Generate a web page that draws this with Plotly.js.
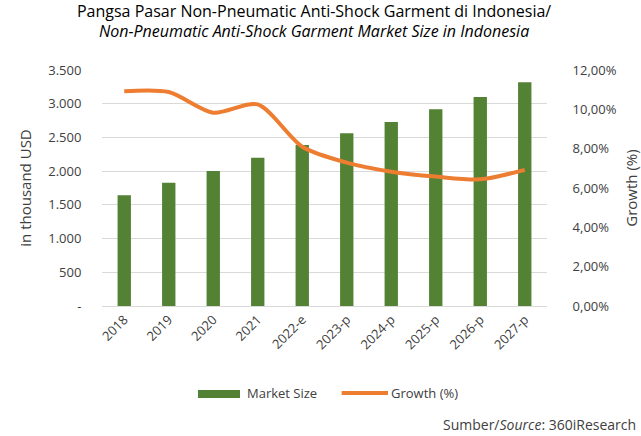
<!DOCTYPE html>
<html>
<head>
<meta charset="utf-8">
<script src="https://cdn.plot.ly/plotly-3.0.1.min.js"></script>
<style>html,body{margin:0;padding:0;background:#fff;}#chart{width:641px;height:436px;}</style>
</head>
<body>
<div id="chart"></div>
<script>
const categories = ["2018","2019","2020","2021","2022-e","2023-p","2024-p","2025-p","2026-p","2027-p"];
const marketSize = [1642,1829,2002,2199,2388,2561,2729,2917,3099,3317];
const growth = [0.1092,0.1088,0.0983,0.1025,0.0810,0.0729,0.0683,0.0658,0.0644,0.0692];
const leftTickVals = [0,500,1000,1500,2000,2500,3000,3500];
const leftTickText = ["-","500","1.000","1.500","2.000","2.500","3.000","3.500"];
const seriesNames = ["Market Size","Growth (%)"];
const sourceText = "Sumber/<i>Source</i>: 360iResearch";

const font = "'Open Sans', Lato, sans-serif";
const barColor = "#548235", lineColor = "#ED7D31", txt = "#404040";
const traces = [
  {type:"bar", name:seriesNames[0], x:categories, y:marketSize, marker:{color:barColor}, width:0.3},
  {type:"scatter", mode:"lines", name:seriesNames[1], x:categories, y:growth, yaxis:"y2",
   line:{color:lineColor, width:4, shape:"spline", smoothing:0.8}}
];
const layout = {
  width:641, height:436,
  paper_bgcolor:"#fff", plot_bgcolor:"#fff",
  separators:",.",
  font:{family:font, size:13, color:txt},
  margin:{l:102, r:94, t:70, b:130},
  title:{text:"Pangsa Pasar Non-Pneumatic Anti-Shock Garment di Indonesia/<br><i>Non-Pneumatic Anti-Shock Garment Market Size in Indonesia</i>",
    font:{family:font, size:16, color:"#000"}, x:0.49, xref:"container", yref:"container", y:0.962, yanchor:"top"},
  xaxis:{type:"category", tickangle:-45, showgrid:false, showline:true, linecolor:"#d9d9d9", linewidth:1,
    ticks:"", tickfont:{size:13, color:txt}},
  yaxis:{range:[0,3500], tickvals:leftTickVals, ticktext:leftTickText, showgrid:true, gridcolor:"#d9d9d9",
    zeroline:false, ticks:"outside", ticklen:17, tickcolor:"rgba(0,0,0,0)", tickfont:{size:13, color:txt},
    title:{text:"in thousand USD", font:{size:15, color:txt}, standoff:12}},
  yaxis2:{range:[0,0.12], overlaying:"y", side:"right", tickformat:".2%", dtick:0.02, showgrid:false,
    zeroline:false, ticks:"outside", ticklen:22, tickcolor:"rgba(0,0,0,0)", tickfont:{size:13, color:txt},
    title:{text:"Growth (%)", font:{size:15, color:txt}, standoff:10}},
  showlegend:false,
  shapes:[
    {type:"rect", xref:"paper", yref:"paper", x0:0.2157, x1:0.3101, y0:-0.3898, y1:-0.3559,
     fillcolor:barColor, line:{width:0}},
    {type:"line", xref:"paper", yref:"paper", x0:0.5385, x1:0.6427, y0:-0.3686, y1:-0.3686,
     line:{color:lineColor, width:4}}
  ],
  annotations:[
    {text:seriesNames[0], xref:"paper", yref:"paper", x:0.3213, y:-0.3686, xanchor:"left", yanchor:"middle",
     showarrow:false, font:{size:13, color:txt}},
    {text:seriesNames[1], xref:"paper", yref:"paper", x:0.645, y:-0.3686, xanchor:"left", yanchor:"middle",
     showarrow:false, font:{size:13, color:txt}},
    {text:sourceText, xref:"paper", yref:"paper", x:1.205, y:-0.5,
    xanchor:"right", yanchor:"middle", showarrow:false, font:{size:14, color:txt}}]
};
Plotly.newPlot("chart", traces, layout, {displayModeBar:false, staticPlot:true});
</script>
</body>
</html>
